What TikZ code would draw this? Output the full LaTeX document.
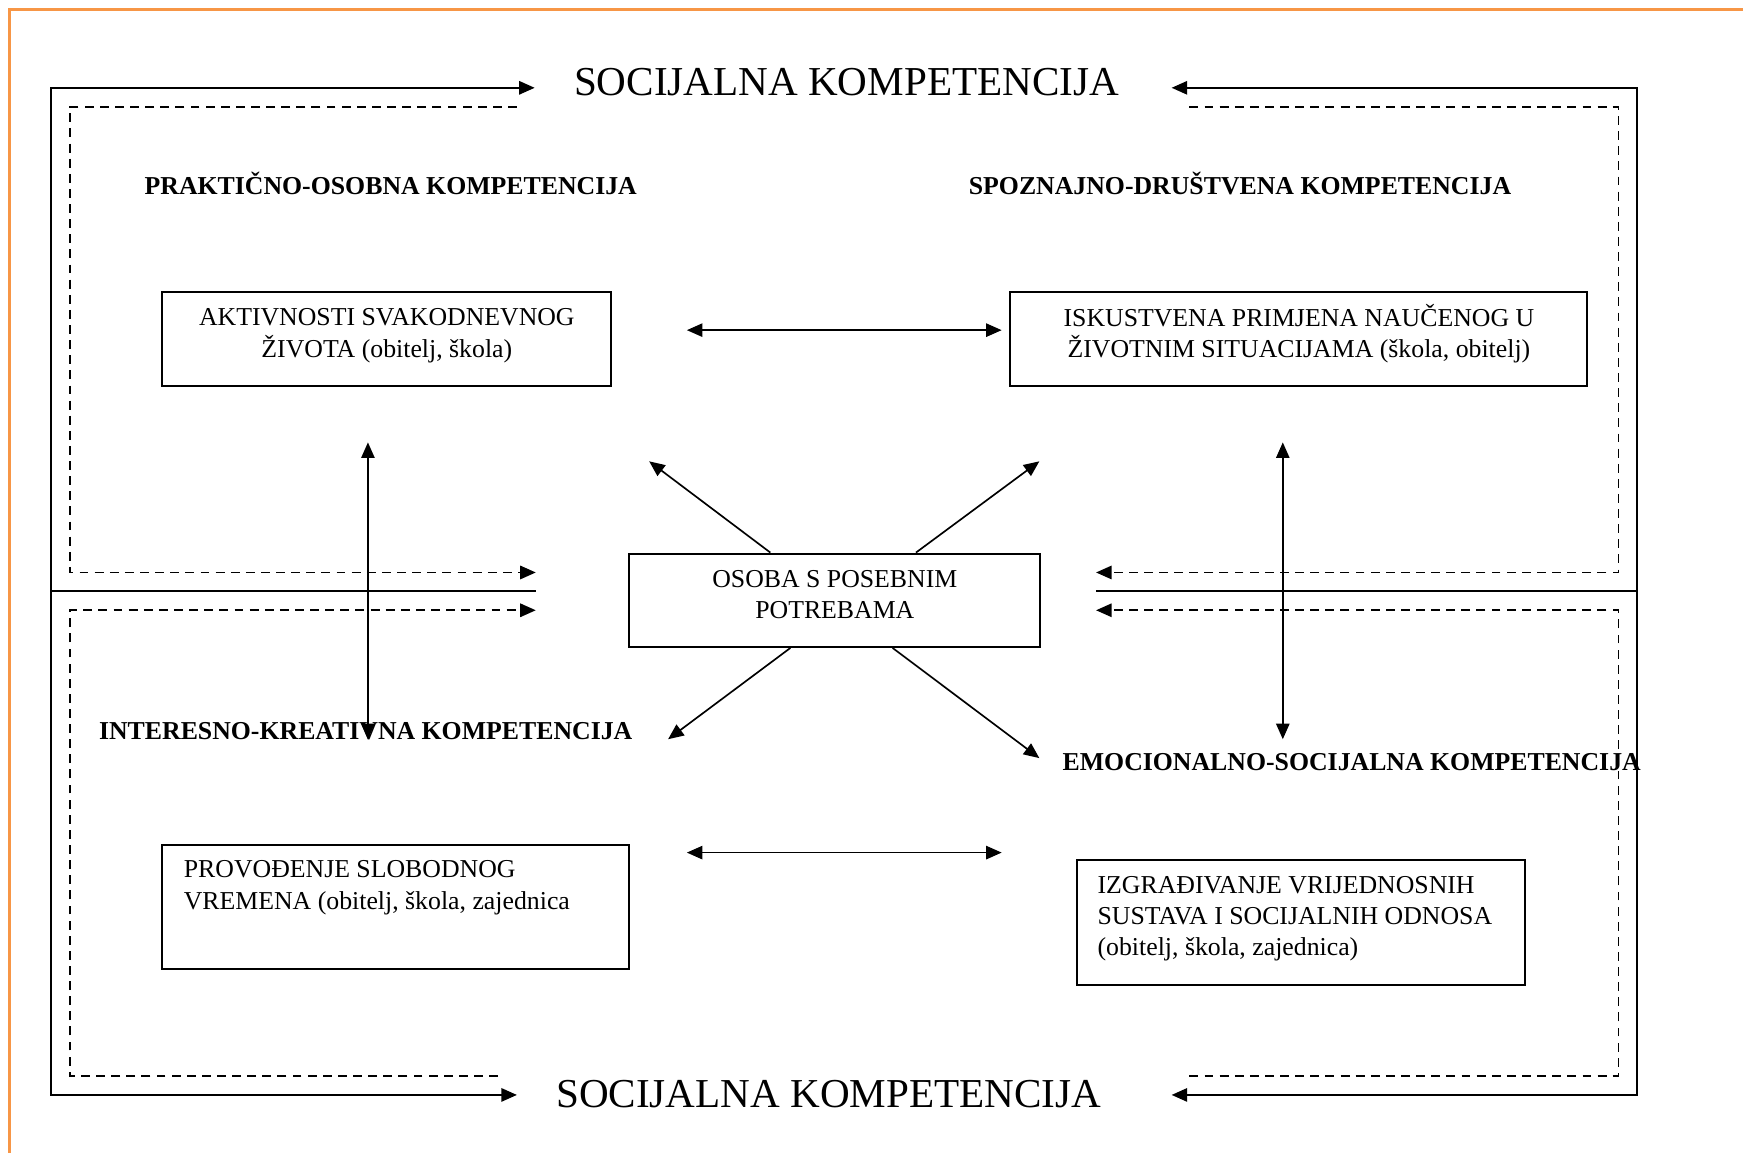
\documentclass[tikz,border=0pt]{standalone}
\usepackage{fontspec}
\setmainfont{Liberation Serif}
\usetikzlibrary{arrows.meta}
\definecolor{frameorange}{RGB}{247,150,70}
\begin{document}
\begin{tikzpicture}[x=0.5pt,y=-0.5pt,
  solidline/.style={line width=0.9pt},
  dashline/.style={line width=0.85pt, dash pattern=on 4pt off 2.8pt},
  onetip/.style={-{Triangle[length=7pt,width=6pt]}},
  twotip/.style={{Triangle[length=7pt,width=6pt]}-{Triangle[length=7pt,width=6pt]}},
  thinarrow/.style={line width=0.75pt},
  box/.style={draw, line width=0.9pt, inner sep=0pt},
  txt/.style={font=\fontsize{11.6}{14}\selectfont, inner sep=0pt},
  headtxt/.style={font=\fontsize{11.6}{14}\selectfont\bfseries, inner sep=0pt, anchor=base},
  titletxt/.style={font=\fontsize{18.5}{22}\selectfont, inner sep=0pt, anchor=base}]
\useasboundingbox (0,0) rectangle (1568,1037);
% orange page corner
\draw[frameorange, line width=1pt] (8.5,1037) -- (8.5,8.5) -- (1568,8.5);

% titles
\node[titletxt] (ttop) at (761.5,86) {SOCIJALNA KOMPETENCIJA};
\node[titletxt] (tbot) at (745.5,996) {SOCIJALNA KOMPETENCIJA};

% headings
\node[headtxt] (hpo) at (351.5,175) {PRAKTIČNO-OSOBNA KOMPETENCIJA};
\node[headtxt] (hsd) at (1115.5,175) {SPOZNAJNO-DRUŠTVENA KOMPETENCIJA};
\node[headtxt] (hik) at (329,665) {INTERESNO-KREATIVNA KOMPETENCIJA};
\node[headtxt] (hes) at (1216,693) {EMOCIONALNO-SOCIJALNA KOMPETENCIJA};

% boxes
\node[box, minimum width=202pt, minimum height=42pt] (akt) at (348,305) {};
\node[txt, align=center] (akttxt) at (348,302) {AKTIVNOSTI SVAKODNEVNOG\\ŽIVOTA (obitelj, škola)};
\node[box, minimum width=259.5pt, minimum height=42pt] (isk) at (1168.5,305) {};
\node[txt, align=center] (isktxt) at (1168.5,300) {ISKUSTVENA PRIMJENA NAUČENOG U\\ŽIVOTNIM SITUACIJAMA (škola, obitelj)};
\node[box, minimum width=185pt, minimum height=42pt] (osoba) at (751,540) {};
\node[txt, align=center] (osobatxt) at (751,535) {OSOBA S POSEBNIM\\POTREBAMA};
\node[box, minimum width=210pt, minimum height=56pt] (prov) at (356,816) {};
\node[txt, align=left, anchor=north west] (provtxt) at (165,774) {PROVOĐENJE SLOBODNOG\\VREMENA (obitelj, škola, zajednica};
\node[box, minimum width=201.5pt, minimum height=56pt] (izg) at (1170.5,830) {};
\node[txt, align=left, anchor=north west] (izgtxt) at (987,788) {IZGRAĐIVANJE VRIJEDNOSNIH\\SUSTAVA I SOCIJALNIH ODNOSA\\(obitelj, škola, zajednica)};

% outer solid frame
\coordinate (ltop) at (481,79);
\coordinate (lcorner1) at (46,79);
\coordinate (lcorner2) at (46,985);
\coordinate (lbot) at (465,985);
\coordinate (rtop) at (1054,79);
\coordinate (rcorner1) at (1473,79);
\coordinate (rcorner2) at (1473,985);
\coordinate (rbot) at (1054,985);
\draw[solidline, twotip] (ltop) -- (lcorner1) -- (lcorner2) -- (lbot);
\draw[solidline, twotip] (rtop) -- (rcorner1) -- (rcorner2) -- (rbot);
\coordinate (midl1) at (46,532);
\coordinate (midl2) at (482,532);
\coordinate (midr1) at (986,532);
\coordinate (midr2) at (1473,532);
\draw[solidline] (midl1) -- (midl2);
\draw[solidline] (midr1) -- (midr2);

% dashed inner frames
\coordinate (d1a) at (465,96);   \coordinate (d1b) at (63,96);
\coordinate (d1c) at (63,515);   \coordinate (d1d) at (482,515);
\coordinate (d2a) at (448,968);  \coordinate (d2b) at (63,968);
\coordinate (d2c) at (63,549);   \coordinate (d2d) at (482,549);
\coordinate (d3a) at (1070,96);  \coordinate (d3b) at (1456,96);
\coordinate (d3c) at (1456,515); \coordinate (d3d) at (986,515);
\coordinate (d4a) at (1070,968); \coordinate (d4b) at (1456,968);
\coordinate (d4c) at (1456,549); \coordinate (d4d) at (986,549);
\draw[dashline, onetip] (d1a) -- (d1b) -- (d1c) -- (d1d);
\draw[dashline, onetip] (d2a) -- (d2b) -- (d2c) -- (d2d);
\draw[dashline, onetip] (d3a) -- (d3b) -- (d3c) -- (d3d);
\draw[dashline, onetip] (d4a) -- (d4b) -- (d4c) -- (d4d);

% horizontal double arrows
\draw[thinarrow, twotip] ([shift={(67,-8)}]akt.east) -- ([shift={(-7,-8)}]isk.west);
\draw[thinarrow, twotip] ([shift={(51,-49)}]prov.east) -- ([shift={(-67,-63)}]izg.west);

% vertical double arrows
\coordinate (v1top) at (331,398); \coordinate (v1bot) at (331,665);
\coordinate (v2top) at (1154,398); \coordinate (v2bot) at (1154,665);
\draw[thinarrow, twotip] (v1top) -- (v1bot);
\draw[thinarrow, twotip] (v2top) -- (v2bot);

% diagonal arrows from the centre
\coordinate (dgul) at (584,415);
\coordinate (dgur) at (935,415);
\coordinate (dgll) at (601,665);
\coordinate (dglr) at (935,682);
\draw[thinarrow, onetip] ([xshift=-29pt]osoba.north) -- (dgul);
\draw[thinarrow, onetip] ([xshift=36.5pt]osoba.north) -- (dgur);
\draw[thinarrow, onetip] ([xshift=-20pt]osoba.south) -- (dgll);
\draw[thinarrow, onetip] ([xshift=26pt]osoba.south) -- (dglr);
\end{tikzpicture}
\end{document}
